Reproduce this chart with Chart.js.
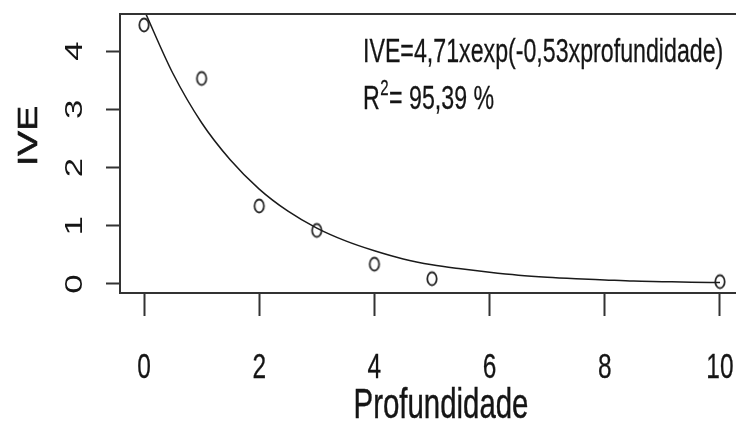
<!DOCTYPE html>
<html>
<head>
<meta charset="utf-8">
<script src="https://cdn.jsdelivr.net/npm/chart.js@4/dist/chart.umd.min.js"></script>
<style>
  html, body { margin: 0; padding: 0; background: #fff; overflow: hidden; }
  #wrap { width: 760px; height: 432px; }
</style>
</head>
<body>
<div id="wrap"><canvas id="chart" width="760" height="432"></canvas></div>
<script>
// Observed points
const depth = [0, 1, 2, 3, 4, 5, 10];
const ive = [4.45, 3.53, 1.34, 0.92, 0.34, 0.09, 0.04];

// Fitted curve, every half unit
const fitDepth = [0, 0.5, 1, 1.5, 2, 2.5, 3, 3.5, 4, 4.5, 5, 5.5, 6, 6.5, 7, 7.5, 8, 8.5, 9, 9.5, 10];
const fitIve = [4.71, 3.62, 2.77, 2.13, 1.63, 1.25, 0.96, 0.74, 0.57, 0.43, 0.33, 0.26, 0.20, 0.15, 0.115, 0.09, 0.07, 0.05, 0.04, 0.03, 0.025];

// Tick labels
const xTicks = [0, 2, 4, 6, 8, 10];
const yTicks = [0, 1, 2, 3, 4];

const FONT = '"Liberation Sans", Arial, sans-serif';
const STRETCH = 1.45; // the reference is stretched vertically

// open ellipse marker (R pch = 1, stretched)
const marker = document.createElement('canvas');
marker.width = 14;
marker.height = 18;
(function () {
    const c = marker.getContext('2d');
    c.strokeStyle = '#2a2a2a';
    c.lineWidth = 1.8;
    c.beginPath();
    c.ellipse(7, 9, 4.7, 6.5, 0, 0, Math.PI * 2);
    c.stroke();
})();

function stretchText(ctx, text, x, y, size, sx, sy, rot, align, heavy) {
    ctx.save();
    ctx.translate(x, y);
    if (rot) ctx.rotate(rot);
    ctx.scale(sx, sy);
    ctx.font = size + 'px ' + FONT;
    ctx.textAlign = align || 'center';
    ctx.textBaseline = 'alphabetic';
    ctx.fillStyle = '#151515';
    ctx.fillText(text, 0, 0);
    if (heavy) {
        ctx.strokeStyle = '#151515';
        ctx.lineWidth = heavy;
        ctx.strokeText(text, 0, 0);
    }
    ctx.restore();
}

const rPlot = {
    id: 'rPlot',
    afterDraw(chart) {
        const ctx = chart.ctx;
        const a = chart.chartArea;
        const xs = chart.scales.x;
        const ys = chart.scales.y;

        // box
        ctx.save();
        ctx.strokeStyle = '#333';
        ctx.lineWidth = 2;
        ctx.strokeRect(a.left, a.top, a.right - a.left, a.bottom - a.top);
        ctx.restore();

        // x tick labels
        xTicks.forEach(v => {
            stretchText(ctx, String(v), xs.getPixelForValue(v), 378, 24.5, 1, STRETCH, 0, 'center', 0.2);
        });
        // y tick labels, rotated like R
        yTicks.forEach(v => {
            stretchText(ctx, String(v), 82, ys.getPixelForValue(v), 24, STRETCH, 1, -Math.PI / 2, 'center', 0);
        });

        // axis titles
        stretchText(ctx, 'Profundidade', 441, 418, 29.4, 1, 1.43, 0, 'center', 0.3);
        stretchText(ctx, 'IVE', 37, 136, 28, 1.33, 1, -Math.PI / 2, 'center', 0.6);

        // equation
        stretchText(ctx, 'IVE=4,71xexp(-0,53xprofundidade)', 363, 62, 23.2, 1, STRETCH, 0, 'left', 0.2);
        ctx.save();
        ctx.font = '23.2px ' + FONT;
        const wR = ctx.measureText('R').width;
        ctx.font = '15px ' + FONT;
        const w2 = ctx.measureText('2').width;
        ctx.restore();
        stretchText(ctx, 'R', 363, 109, 23.2, 1, STRETCH, 0, 'left', 0.2);
        stretchText(ctx, '2', 363 + wR + 0.5, 95, 15, 1, STRETCH, 0, 'left', 0.2);
        stretchText(ctx, '= 95,39 %', 363 + wR + w2 + 1, 109, 23.2, 1, STRETCH, 0, 'left', 0.2);
    }
};

new Chart(document.getElementById('chart'), {
    type: 'scatter',
    data: {
        datasets: [{
            label: 'Ajuste',
            type: 'line',
            data: fitDepth.map((d, i) => ({ x: d, y: fitIve[i] })),
            borderColor: '#1a1a1a',
            borderWidth: 1.5,
            pointRadius: 0,
            cubicInterpolationMode: 'monotone',
            fill: false
        }, {
            label: 'IVE',
            data: depth.map((d, i) => ({ x: d, y: ive[i] })),
            pointStyle: marker,
            pointRadius: 6
        }]
    },
    options: {
        responsive: false,
        animation: false,
        layout: { padding: { top: 14, right: 16, left: 0, bottom: 0 } },
        plugins: {
            legend: { display: false },
            tooltip: { enabled: false }
        },
        scales: {
            x: {
                type: 'linear',
                min: -0.417,
                max: 10.417,
                afterBuildTicks: s => { s.ticks = xTicks.map(v => ({ value: v })); },
                afterFit: s => { s.height = 139; },
                ticks: { display: false },
                grid: { drawOnChartArea: false, drawTicks: true, tickLength: 23, tickWidth: 2, color: '#333' },
                border: { display: true, width: 2, color: '#333' }
            },
            y: {
                type: 'linear',
                min: -0.155,
                max: 4.638,
                afterBuildTicks: s => { s.ticks = yTicks.map(v => ({ value: v })); },
                afterFit: s => { s.width = 120; },
                ticks: { display: false },
                grid: { drawOnChartArea: false, drawTicks: true, tickLength: 14, tickWidth: 2, color: '#333' },
                border: { display: true, width: 2, color: '#333' }
            }
        }
    },
    plugins: [rPlot]
});
</script>
</body>
</html>
